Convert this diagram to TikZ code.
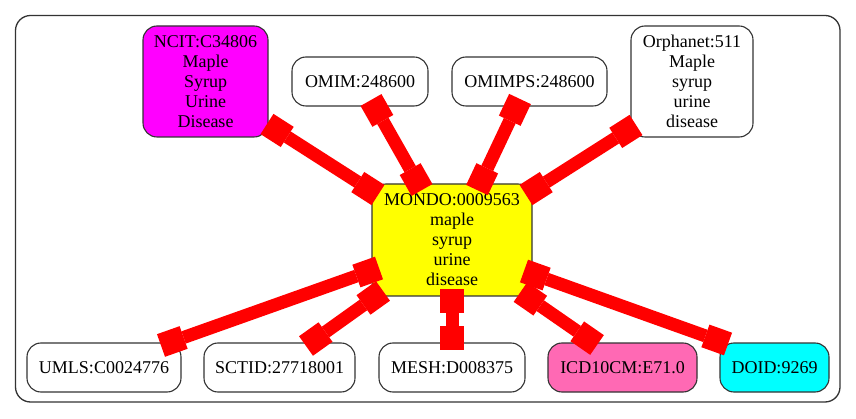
\documentclass[tikz,border=0pt]{standalone}
\usepackage{fontspec}
\setmainfont{Liberation Serif}
\usetikzlibrary{arrows.meta}
\definecolor{hotpink}{HTML}{FF69B4}
\definecolor{rgbmagenta}{HTML}{FF00FF}
\definecolor{rgbcyan}{HTML}{00FFFF}
\definecolor{rgbyellow}{HTML}{FFFF00}
\definecolor{rgbred}{HTML}{FF0000}
\definecolor{framegray}{HTML}{333333}
\begin{document}
\begin{tikzpicture}[x=1pt,y=-1pt,
  term/.style={draw=framegray, line width=1.1pt, rounded corners=14pt,
    align=center, inner sep=0pt, fill=white,
    font=\fontsize{18}{20}\selectfont},
  wide/.style={minimum height=111pt},
  flat/.style={minimum height=49pt},
  boxtip/.tip={Square[length=24pt,width=24pt,line width=0pt]},
  link/.style={draw=rgbred, line width=13pt, boxtip-boxtip}]
\useasboundingbox (0,0) rectangle (856,419);

% outer frame
\draw[framegray, line width=1.3pt, rounded corners=15pt] (15.5,15.5) rectangle (840,402);

% central term
\node[term, fill=rgbyellow, minimum width=160pt, minimum height=112pt] (mondo) at (452,240)
  {MONDO:0009563\\maple\\syrup\\urine\\disease};

% upper row
\node[term, wide, fill=rgbmagenta, minimum width=125pt] (ncit) at (205.5,81.5)
  {NCIT:C34806\\Maple\\Syrup\\Urine\\Disease};
\node[term, flat, minimum width=136pt] (omim) at (360,81.5) {OMIM:248600};
\node[term, flat, minimum width=155pt] (omimps) at (529.5,81.5) {OMIMPS:248600};
\node[term, wide, minimum width=122pt] (orpha) at (692,81.5)
  {Orphanet:511\\Maple\\syrup\\urine\\disease};

% lower row
\node[term, flat, minimum width=154pt] (umls) at (104,367.5) {UMLS:C0024776};
\node[term, flat, minimum width=151pt] (sctid) at (279.5,367.5) {SCTID:27718001};
\node[term, flat, minimum width=146pt] (mesh) at (452,367.5) {MESH:D008375};
\node[term, flat, fill=hotpink, minimum width=149pt] (icd) at (622.5,367.5) {ICD10CM:E71.0};
\node[term, flat, fill=rgbcyan, minimum width=109pt] (doid) at (774.5,367.5) {DOID:9269};

% cross-references
\draw[link] ([shift={(61.5,42.5)}]ncit.center) -- ([shift={(-74,-45)}]mondo.center);
\draw[link] ([shift={(11,18.5)}]omim.center) -- ([shift={(-30,-50)}]mondo.center);
\draw[link] ([shift={(-9.5,17.5)}]omimps.center) -- ([shift={(25,-50)}]mondo.center);
\draw[link] ([shift={(-56,43.5)}]orpha.center) -- ([shift={(74,-45)}]mondo.center);
\draw[link] ([shift={(57,-22)}]umls.center) -- ([shift={(-73,28)}]mondo.center);
\draw[link] ([shift={(26.5,-21.5)}]sctid.center) -- ([shift={(-69,51)}]mondo.center);
\draw[link] ([shift={(0,-17.5)}]mesh.center) -- ([shift={(0,49)}]mondo.center);
\draw[link] ([shift={(-25.5,-22.5)}]icd.center) -- ([shift={(68.5,52)}]mondo.center);
\draw[link] ([shift={(-46.5,-23.5)}]doid.center) -- ([shift={(72,31)}]mondo.center);
\end{tikzpicture}
\end{document}
